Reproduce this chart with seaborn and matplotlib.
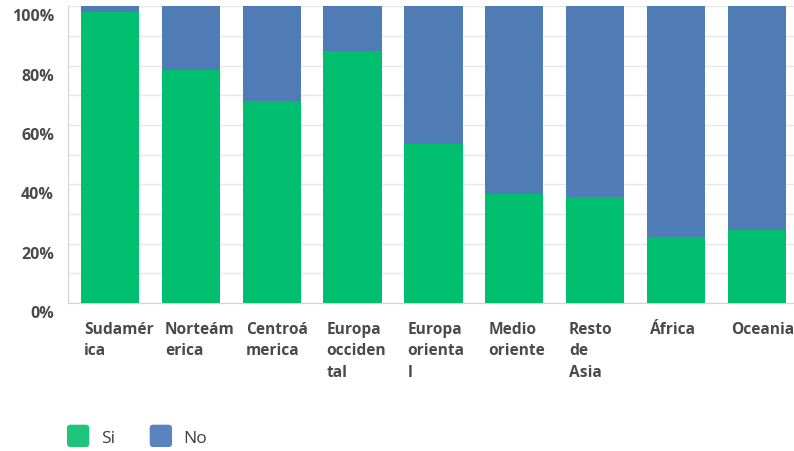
import matplotlib
matplotlib.use("Agg")
import matplotlib.pyplot as plt
import matplotlib.transforms as mtransforms
from matplotlib.patches import FancyBboxPatch
from matplotlib.legend_handler import HandlerPatch
from matplotlib.patches import Patch
import seaborn as sns
import pandas as pd

regions = ["Sudamérica", "Norteamérica", "Centroamérica", "Europa occidental",
           "Europa oriental", "Medio oriente", "Resto de Asia", "África", "Oceania"]
region_labels = ["Sudamér\nica", "Norteám\nerica", "Centroá\nmerica", "Europa\nocciden\ntal",
                 "Europa\norienta\nl", "Medio\noriente", "Resto\nde\nAsia", "África", "Oceania"]
si_pct = [98.1, 78.6, 68.1, 84.8, 53.5, 36.7, 35.8, 22.3, 24.7]
no_pct = [100 - v for v in si_pct]
y_ticks = [0, 20, 40, 60, 80, 100]
y_tick_labels = ["0%", "20%", "40%", "60%", "80%", "100%"]

GREEN = "#00BF6F"
BLUE = "#507CB6"
TEXT = "#4a4a4a"

df = pd.DataFrame({"region": regions, "Si": si_pct, "No": no_pct})
df["total"] = df["Si"] + df["No"]

sns.set_style("white")
plt.rcParams["font.family"] = ["Open Sans", "DejaVu Sans"]

fig = plt.figure(figsize=(7.94, 4.52), dpi=100)
ax = fig.add_axes([68 / 794, 1 - 304 / 452, 1 - 68 / 794, (304 - 7.3) / 452])

# stacked 100% bars: full height in blue, "Si" share drawn on top in green
sns.barplot(data=df, x="region", y="total", color=BLUE, width=0.72,
            saturation=1, linewidth=0, ax=ax, zorder=2)
sns.barplot(data=df, x="region", y="Si", color=GREEN, width=0.72,
            saturation=1, linewidth=0, ax=ax, zorder=3)

ax.set_ylim(0, 100)
ax.set_xlim(-0.52, 8.46)
ax.set_yticks(y_ticks)
ax.set_yticks(range(10, 100, 20), minor=True)
ax.yaxis.grid(True, which="both", color="#e8e8e8", linewidth=1, zorder=0)
ax.set_yticklabels(y_tick_labels)
ax.tick_params(axis="y", which="both", length=0, pad=10, labelsize=11.5, labelcolor=TEXT)
for lab in ax.get_yticklabels():
    lab.set_fontweight("bold")
    lab.set_transform(lab.get_transform() +
                      mtransforms.ScaledTranslation(0, -0.08, fig.dpi_scale_trans))

ax.set_xticks(range(len(regions)))
ax.set_xticklabels(region_labels, ha="left", va="top", linespacing=1.45,
                   fontsize=11.2, fontweight="bold", color=TEXT)
ax.tick_params(axis="x", length=0, pad=13)
for lab in ax.get_xticklabels():
    lab.set_transform(lab.get_transform() +
                      mtransforms.ScaledTranslation(-0.26, 0, fig.dpi_scale_trans))

ax.set_xlabel("")
ax.set_ylabel("")
for side in ["top", "right"]:
    ax.spines[side].set_visible(False)
ax.spines["left"].set_color("#d4d4d4")
ax.spines["bottom"].set_color("#d4d4d4")
ax.spines["left"].set_zorder(4)


class RoundedSquare(HandlerPatch):
    def create_artists(self, legend, orig_handle, xdescent, ydescent,
                       width, height, fontsize, trans):
        size = min(width, height)
        p = FancyBboxPatch((-xdescent, -ydescent + (height - size) / 2), size, size,
                           boxstyle="round,pad=0,rounding_size=2.5",
                           facecolor=orig_handle.get_facecolor(), edgecolor="none",
                           transform=trans)
        return [p]


handles = [Patch(facecolor="#1dc47a", label="Si"),
           Patch(facecolor="#5b83bd", label="No")]
fig.legend(handles=handles, loc="lower left", bbox_to_anchor=(67 / 794, 4 / 452),
           ncol=2, frameon=False, borderpad=0, borderaxespad=0,
           handlelength=1.6, handleheight=1.6,
           handletextpad=0.35, columnspacing=2.0, fontsize=12.5,
           labelcolor="#3d3d3d", handler_map={Patch: RoundedSquare()})

fig.savefig("out.png", dpi=100)
